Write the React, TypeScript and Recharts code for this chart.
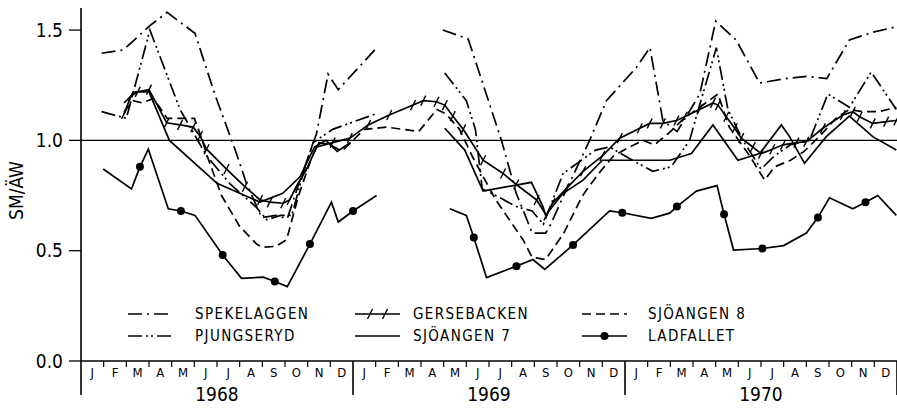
import { LineChart, Line, XAxis, YAxis, ReferenceLine } from "recharts";

type Pt = [number, number | null];

const FONT = '"DejaVu Sans Condensed", "DejaVu Sans", sans-serif';

const monthLetters = ["J", "F", "M", "A", "M", "J", "J", "A", "S", "O", "N", "D"];
const years = ["1968", "1969", "1970"];
const yTicks = [0, 0.5, 1.0, 1.5];
const xTicks = Array.from({ length: 73 }, (_, i) => i / 2);

// x = months since 1 Jan 1968, y = SM/ÄW; null breaks the line (winter gap)
const spekelaggen: Pt[] = [
  [0.91, 1.395], [1.87, 1.41], [3.04, 1.52], [3.8, 1.58], [5.03, 1.485], [5.9, 1.21],
  [6.86, 0.94], [7.3, 0.805], [7.97, 0.65], [8.6, 0.66], [9.1, 0.645], [9.66, 0.82],
  [10.39, 1.03], [10.9, 1.3], [11.35, 1.23], [12.96, 1.41],
  [14.5, null],
  [15.96, 1.5], [17.08, 1.46], [18.55, 1.0], [19.2, 0.76], [19.6, 0.66], [19.9, 0.58],
  [20.5, 0.58], [20.68, 0.61], [21.27, 0.745], [22.44, 1.0], [23.18, 1.18], [24.5, 1.33],
  [25.1, 1.42], [25.67, 1.09], [26.3, 1.04], [27.3, 1.21], [28.0, 1.54], [28.9, 1.455],
  [29.94, 1.26], [31.1, 1.28], [32.0, 1.29], [32.9, 1.28], [33.9, 1.455], [34.93, 1.49],
  [35.97, 1.515],
];

const pjungseryd: Pt[] = [
  [0.91, 1.13], [2.0, 1.1], [3.04, 1.5], [4.37, 1.14], [5.54, 0.93], [6.6, 0.8],
  [7.7, 0.7], [8.2, 0.64], [8.8, 0.66], [9.3, 0.66], [9.8, 0.85], [10.24, 0.99],
  [11.1, 1.05], [13.0, 1.12],
  [14.5, null],
  [16.05, 1.305], [17.0, 1.18], [17.4, 1.05], [17.7, 0.78], [18.3, 0.75], [19.2, 0.7],
  [19.9, 0.68], [20.4, 0.62], [21.27, 0.85], [22.7, 0.956], [23.32, 0.97], [24.5, 0.9],
  [25.23, 0.86], [26.04, 0.88], [26.85, 1.0], [27.15, 1.11], [28.03, 1.42], [28.54, 1.14],
  [29.2, 1.0], [30.0, 0.87], [30.6, 0.93], [31.3, 0.98], [32.14, 1.0], [32.95, 1.21],
  [33.9, 1.15], [34.86, 1.31], [35.97, 1.14],
];

const gersebacken: Pt[] = [
  [1.9, 1.12], [2.2, 1.2], [2.5, 1.22], [3.0, 1.23], [3.78, 1.08], [4.37, 1.07],
  [4.95, 1.06], [5.25, 1.02], [5.54, 0.96], [6.42, 0.87], [7.23, 0.79], [7.9, 0.73],
  [8.33, 0.72], [8.92, 0.715], [9.2, 0.73], [9.5, 0.79], [10.0, 0.88], [10.4, 0.97],
  [11.1, 0.99], [11.86, 1.01], [12.67, 1.07], [13.6, 1.115], [14.65, 1.16], [15.1, 1.18],
  [15.68, 1.175], [16.05, 1.16], [16.4, 1.11], [16.86, 1.05], [17.74, 0.91], [18.62, 0.85],
  [19.2, 0.8], [20.1, 0.73], [20.53, 0.66], [20.8, 0.715], [21.4, 0.78], [22.15, 0.86],
  [23.0, 0.93], [23.77, 1.01], [24.65, 1.055], [25.09, 1.077], [25.67, 1.077], [26.27, 1.09],
  [26.63, 1.107], [27.29, 1.14], [27.88, 1.17], [28.1, 1.16], [28.47, 1.107], [28.84, 1.055],
  [29.13, 1.01], [29.64, 0.97], [30.0, 0.94], [30.5, 0.96], [30.97, 0.98], [31.56, 0.99],
  [32.0, 0.994], [32.73, 1.055], [33.61, 1.115], [34.05, 1.13], [34.35, 1.107], [34.93, 1.077],
  [35.52, 1.085], [35.97, 1.09],
];

const sjoangen7: Pt[] = [
  [1.9, 1.17], [2.4, 1.22], [3.0, 1.22], [3.9, 1.0], [6.0, 0.805], [7.9, 0.72],
  [8.9, 0.76], [9.66, 0.835], [10.3, 0.97], [10.8, 1.0], [11.3, 0.95], [11.9, 0.99],
  [14.0, null],
  [16.05, 1.055], [16.93, 0.956], [17.74, 0.77], [19.87, 0.81], [20.38, 0.7], [20.5, 0.66],
  [20.68, 0.685], [21.27, 0.76], [22.15, 0.82], [23.0, 0.91], [25.97, 0.91], [26.93, 0.94],
  [27.88, 1.07], [28.98, 0.91], [29.94, 0.94], [30.9, 1.07], [31.26, 1.017], [31.92, 0.896],
  [32.88, 1.017], [33.9, 1.11], [34.93, 1.017], [35.97, 0.956],
];

const sjoangen8: Pt[] = [
  [1.9, 1.13], [2.3, 1.18], [2.7, 1.17], [3.2, 1.19], [3.8, 1.1], [4.6, 1.1],
  [5.0, 1.1], [5.25, 1.03], [5.6, 0.92], [6.2, 0.75], [7.0, 0.61], [7.75, 0.53],
  [8.0, 0.515], [8.6, 0.52], [9.07, 0.55], [9.6, 0.75], [10.2, 0.93], [10.5, 0.99],
  [11.0, 0.98], [11.5, 0.95], [11.9, 0.99], [12.5, 1.05], [13.5, 1.06], [14.9, 1.04],
  [15.7, 1.14], [16.1, 1.12], [16.7, 1.05], [17.3, 0.92], [18.3, 0.73], [19.5, 0.55],
  [19.9, 0.47], [20.5, 0.46], [21.3, 0.58], [22.1, 0.745], [22.4, 0.79], [23.0, 0.87],
  [23.5, 0.93], [24.2, 0.97], [24.8, 1.0], [25.3, 0.98], [25.9, 1.03], [26.6, 1.1],
  [27.3, 1.15], [28.1, 1.21], [28.6, 1.06], [29.5, 0.93], [30.16, 0.82], [30.6, 0.88],
  [31.3, 0.91], [31.9, 0.95], [32.6, 1.02], [33.3, 1.1], [33.9, 1.14], [34.5, 1.13],
  [35.2, 1.13], [35.97, 1.15],
];

const ladfallet: Pt[] = [
  [0.98, 0.87], [2.23, 0.78], [2.6, 0.88], [2.97, 0.96], [3.85, 0.69], [4.41, 0.68],
  [5.03, 0.66], [6.25, 0.48], [7.08, 0.375], [8.04, 0.38], [8.55, 0.36], [9.1, 0.337],
  [10.1, 0.53], [11.05, 0.72], [11.35, 0.63], [12.0, 0.68], [13.04, 0.75],
  [14.5, null],
  [16.27, 0.69], [17.0, 0.66], [17.33, 0.56], [17.89, 0.378], [19.21, 0.43], [19.94, 0.46],
  [20.46, 0.415], [21.71, 0.526], [23.32, 0.68], [23.88, 0.672], [25.16, 0.647], [25.97, 0.67],
  [26.29, 0.7], [27.15, 0.77], [28.06, 0.795], [28.37, 0.665], [28.79, 0.503], [30.06, 0.51],
  [31.0, 0.523], [32.0, 0.58], [32.51, 0.65], [33.02, 0.74], [34.05, 0.69], [34.61, 0.72],
  [35.15, 0.75], [35.97, 0.66],
];
// sampling dates that carry a filled marker
const ladfalletMarked = [2.6, 4.41, 6.25, 8.55, 10.1, 12.0, 17.33, 19.21, 21.71, 23.88, 26.29, 28.37, 30.06, 32.51, 34.61];

const toRows = (pts: Pt[]) => pts.map(([m, v]) => ({ m, v }));

const DASH_SPEKE = "14 5 2 5";
const DASH_PJUNG = "14 4 2 3 2 4";
const DASH_SJO8 = "9 5";

const noDot = (p: any) => <g key={`n-${p.index}`} />;

const crossDot = (p: any) => {
  const { cx, cy, index } = p;
  if (cx == null || cy == null) return <g key={`c-${index}`} />;
  return <line key={`c-${index}`} x1={cx - 2.5} y1={cy + 5} x2={cx + 2.5} y2={cy - 5} stroke="#000" strokeWidth={1.4} />;
};

const ladDot = (p: any) => {
  const { cx, cy, index, payload } = p;
  if (cx == null || cy == null || !ladfalletMarked.includes(payload.m)) return <g key={`l-${index}`} />;
  return <circle key={`l-${index}`} cx={cx} cy={cy} r={4} fill="#000" />;
};

const MonthTick = (props: any) => {
  const { x, y, payload } = props;
  const v: number = payload.value;
  if (Number.isInteger(v)) {
    const isYear = v % 12 === 0;
    return (
      <g>
        <line x1={x} y1={y} x2={x} y2={y + (isYear ? 34 : 6)} stroke="#000" strokeWidth={isYear ? 1.6 : 1.2} />
        {v % 12 === 6 && (
          <text x={x} y={y + 40} textAnchor="middle" fontSize={19} fontFamily={FONT} fill="#000">
            {years[(v - 6) / 12]}
          </text>
        )}
      </g>
    );
  }
  return (
    <text x={x} y={y + 16} textAnchor="middle" fontSize={13} fontFamily={FONT} fill="#000">
      {monthLetters[Math.floor(v) % 12]}
    </text>
  );
};

const YLabel = (p: any) => {
  const vb = p.viewBox;
  const cx = vb.x + 16;
  const cy = vb.y + vb.height / 2 + 6;
  return (
    <text x={cx} y={cy} transform={`rotate(-90 ${cx} ${cy})`} textAnchor="middle" dominantBaseline="central" fontSize={19} fontFamily={FONT} fill="#000">
      SM/ÄW
    </text>
  );
};

const legendItems = [
  { name: "SPEKELAGGEN", col: 0, row: 0, dash: DASH_SPEKE, mark: "" },
  { name: "PJUNGSERYD", col: 0, row: 1, dash: DASH_PJUNG, mark: "" },
  { name: "GERSEBACKEN", col: 1, row: 0, dash: undefined, mark: "cross" },
  { name: "SJÖANGEN 7", col: 1, row: 1, dash: undefined, mark: "" },
  { name: "SJÖANGEN 8", col: 2, row: 0, dash: DASH_SJO8, mark: "" },
  { name: "LADFALLET", col: 2, row: 1, dash: undefined, mark: "dot" },
];

function LegendOverlay() {
  const colX = [128, 355, 582];
  const textX = [195, 413, 648];
  const rowY = [314, 336];
  return (
    <svg width={897} height={408} style={{ position: "absolute", left: 0, top: 0, pointerEvents: "none" }}>
      {legendItems.map((it) => {
        const x0 = colX[it.col];
        const x1 = x0 + 45;
        const y = rowY[it.row];
        return (
          <g key={it.name}>
            <line x1={x0} y1={y} x2={x1} y2={y} stroke="#000" strokeWidth={1.7} strokeDasharray={it.dash} />
            {it.mark === "cross" &&
              [x0 + 15, x0 + 30].map((cx) => (
                <line key={cx} x1={cx - 2.5} y1={y + 5} x2={cx + 2.5} y2={y - 5} stroke="#000" strokeWidth={1.4} />
              ))}
            {it.mark === "dot" && <circle cx={(x0 + x1) / 2} cy={y} r={4} fill="#000" />}
            <text x={textX[it.col]} y={y} dominantBaseline="central" fontSize={15} letterSpacing={1.4} fontFamily={FONT} fill="#000">
              {it.name}
            </text>
          </g>
        );
      })}
    </svg>
  );
}

const series = [
  { key: "speke", data: spekelaggen, dash: DASH_SPEKE, dot: noDot },
  { key: "pjung", data: pjungseryd, dash: DASH_PJUNG, dot: noDot },
  { key: "gerse", data: gersebacken, dash: undefined, dot: crossDot },
  { key: "sjo7", data: sjoangen7, dash: undefined, dot: noDot },
  { key: "sjo8", data: sjoangen8, dash: DASH_SJO8, dot: noDot },
  { key: "lad", data: ladfallet, dash: undefined, dot: ladDot },
];

export default function App() {
  return (
    <div style={{ position: "absolute", left: 0, top: 0, width: 897, height: 408, background: "#fff" }}>
      <LineChart width={897} height={408} margin={{ top: 8, right: 0, left: 0, bottom: 0 }}>
        <XAxis
          type="number"
          dataKey="m"
          domain={[0, 36]}
          ticks={xTicks}
          interval={0}
          tick={<MonthTick />}
          tickLine={false}
          tickSize={0}
          tickMargin={0}
          height={47}
          axisLine={{ stroke: "#000", strokeWidth: 1.6 }}
          allowDuplicatedCategory={false}
        />
        <YAxis
          type="number"
          domain={[0, 1.6]}
          ticks={yTicks}
          width={81}
          tickSize={12}
          tickMargin={6}
          tickFormatter={(v: number) => v.toFixed(1)}
          tick={{ fill: "#000", fontSize: 19, fontFamily: FONT }}
          tickLine={{ stroke: "#000", strokeWidth: 1.3 }}
          axisLine={{ stroke: "#000", strokeWidth: 1.6 }}
          label={{ content: <YLabel /> }}
        />
        <ReferenceLine y={1} stroke="#000" strokeWidth={1.3} />
        {series.map((s) => (
          <Line
            key={s.key}
            data={toRows(s.data)}
            dataKey="v"
            type="linear"
            stroke="#000"
            strokeWidth={1.7}
            strokeDasharray={s.dash}
            dot={s.dot}
            activeDot={false}
            connectNulls={false}
            isAnimationActive={false}
          />
        ))}
      </LineChart>
      <LegendOverlay />
    </div>
  );
}
